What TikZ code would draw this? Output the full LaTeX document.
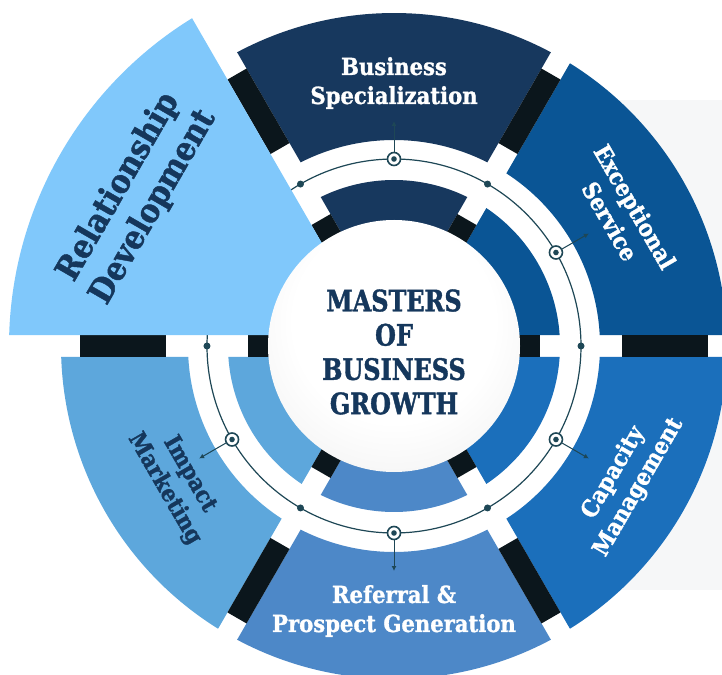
\documentclass[tikz,border=0pt]{standalone}
\usepackage{fontspec}
\setmainfont{DejaVu Serif}
\newfontfamily\condfont{DejaVu Serif Condensed}[BoldFont={DejaVu Serif Condensed Bold}, BoldFeatures={FakeBold=1.3}]
\newfontfamily\hubfont{DejaVu Serif Condensed}[BoldFont={DejaVu Serif Condensed Bold}, BoldFeatures={FakeBold=1.3}, FakeStretch=0.9]
\usepackage{xcolor}
\usepackage{tikz}
\usetikzlibrary{arrows.meta,calc}

\definecolor{navy}{HTML}{17385E}
\definecolor{seablue}{HTML}{0A5595}
\definecolor{midblue}{HTML}{1B6FBB}
\definecolor{steelblue}{HTML}{4D88C8}
\definecolor{skyblue}{HTML}{5DA7DC}
\definecolor{paleblue}{HTML}{80C8FB}
\definecolor{blockdark}{HTML}{0B161C}
\definecolor{wire}{HTML}{1E4756}
\definecolor{inkblue}{HTML}{15375C}
\definecolor{backgray}{HTML}{F6F7F8}

% white sphere in the middle
\pgfdeclareradialshading{pearl}{\pgfpoint{0bp}{8bp}}{%
  color(0bp)=(white); color(20bp)=(white); color(32bp)=(gray!9);
  color(42bp)=(gray!22); color(50bp)=(gray!36)}

% ring piece between two gaps: start angle, end angle, inner r, outer r, colour
\newcommand{\ringpart}[5]{%
  \fill[#5] ({#1+asin(11/#4)}:#4)
    arc[start angle={#1+asin(11/#4)}, end angle={#2-asin(11/#4)}, radius=#4]
    -- ({#2-asin(11/#3)}:#3)
    arc[start angle={#2-asin(11/#3)}, end angle={#1+asin(11/#3)}, radius=#3]
    -- cycle;}

\begin{document}
\begin{tikzpicture}[
    x=1pt, y=1pt,
    every node/.style={font=\condfont\bfseries},
    seglabel/.style={
        align=center,
        text=white,
        font=\condfont\bfseries\fontsize{23.5}{29}\selectfont
    },
    darklabel/.style={seglabel, text=inkblue},
    hub/.style={
        circle,
        shade,
        shading=pearl,
        minimum size=252pt,
        inner sep=0pt
    },
    title/.style={
        align=center,
        text=inkblue,
        font=\hubfont\bfseries\fontsize{29.5}{34.3}\selectfont
    },
    marker/.style={
        circle,
        draw=wire,
        line width=1.6pt,
        fill=white,
        minimum size=13pt,
        inner sep=0pt
    },
    link/.style={-{Latex[length=5pt,width=5pt]}, draw=wire, fill=wire, line width=1pt},
    block/.style={fill=blockdark}
]

\useasboundingbox (-394,-328) rectangle (328,346);
\fill[white] (-394,-328) rectangle (328,346);
\fill[backgray] (150,-244) rectangle (328,246);
\fill[white] (0,0) circle[radius=333];

% outer ring
\ringpart{60}{120}{206}{333}{navy}
\ringpart{0}{60}{206}{333}{seablue}
\ringpart{-60}{0}{206}{333}{midblue}
\ringpart{-120}{-60}{206}{333}{steelblue}
\ringpart{-180}{-120}{206}{333}{skyblue}

% inner ring
\ringpart{60}{120}{100}{166}{navy}
\ringpart{0}{60}{100}{166}{seablue}
\ringpart{-60}{0}{100}{166}{midblue}
\ringpart{-120}{-60}{100}{166}{steelblue}
\ringpart{-180}{-120}{100}{166}{skyblue}

% dark blocks in the gaps
\foreach \a in {0,60,...,300} {
    \fill[block, rotate=\a] (228,-11) rectangle (314,11);
    \fill[block, rotate=\a] (118,-11) rectangle (146,11);
}

% connector circle
\draw[wire, line width=1.2pt] (0,0) circle[radius=187];
\foreach \a in {0,60,...,300}
    \fill[wire] (\a:187) circle[radius=3.5];

\foreach \a/\n in {90/1, 30/2, -30/3, -90/4, -150/5} {
    \coordinate (t\n) at (\a:225);
    \node[marker] (m\n) at (\a:187) {};
    \draw[link] (m\n) -- (t\n);
    \fill[wire] (m\n) circle[radius=2.8];
}

% pulled-out piece
\fill[paleblue] (150:22)
    -- ({120+asin(11/385)}:385)
    arc[start angle={120+asin(11/385)}, end angle={180-asin(11/385)}, radius=385]
    -- cycle;

\node[hub] (core) at (0,0) {};
\node[title] (name) at (0,-6) {MASTERS\\OF\\BUSINESS\\GROWTH};

\node[seglabel] (bs) at (90:263) {Business\\Specialization};
\node[seglabel, rotate=-60] (es) at (30:264) {Exceptional\\Service};
\node[seglabel, rotate=60] (cm) at (-30:268) {Capacity\\Management};
\node[seglabel] (rpg) at (-90:265) {Referral \&\\Prospect Generation};
\node[darklabel, rotate=-60] (im) at (-148:256) {Impact\\Marketing};
\node[darklabel, rotate=60, font=\condfont\bfseries\fontsize{33}{40}\selectfont]
    (rd) at (150:298) {Relationship\\Development};

\end{tikzpicture}
\end{document}
